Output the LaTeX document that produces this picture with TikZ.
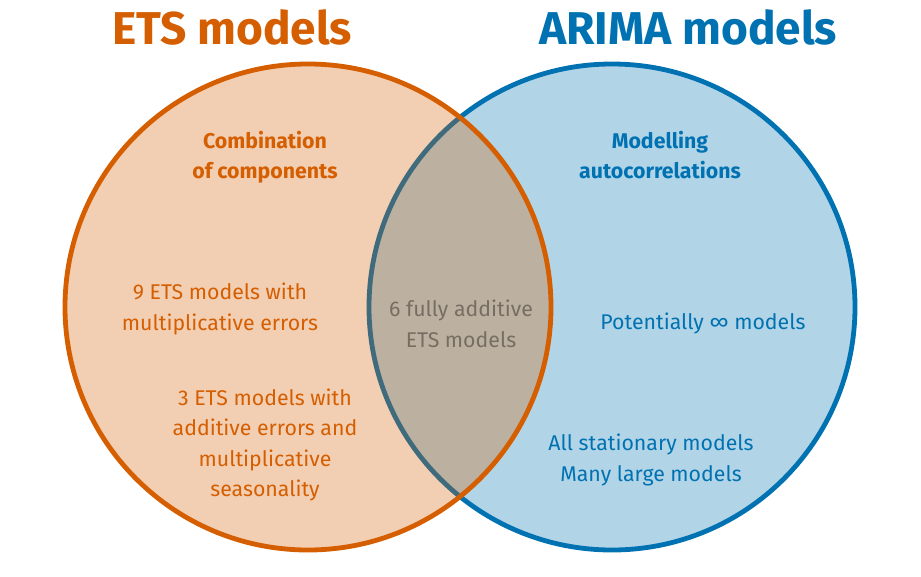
\documentclass[tikz,border=0pt]{standalone}
\usepackage{fontspec}
\setmainfont{Fira Sans}
\definecolor{etsorange}{HTML}{D55E00}
\definecolor{arimablue}{HTML}{0072B2}
\definecolor{midgray}{RGB}{118,110,98}
\begin{document}
\begin{tikzpicture}[x=1pt,y=-1pt,
  title/.style={font=\fontsize{46}{50}\selectfont\bfseries, anchor=center},
  head/.style={font=\fontsize{21.3}{30}\selectfont\bfseries, align=center, anchor=center},
  body/.style={font=\fontsize{21.3}{30.5}\selectfont, align=center, anchor=center},
  vennring/.style={line width=4.8pt, fill opacity=0.3}
]
\useasboundingbox (0,0) rectangle (921,576);
\fill[white] (0,0) rectangle (921,576);
\path[vennring, draw=arimablue, fill=arimablue] (612,307) circle[radius=243];
\path[vennring, draw=etsorange, fill=etsorange] (308,307) circle[radius=243];
\node[title, text=etsorange] (etst) at (232,27) {ETS models};
\node[title, text=arimablue] (arimat) at (688,27) {ARIMA models};
\node[head, text=etsorange] (comb) at (265,157) {Combination\\of components};
\node[head, text=arimablue] (autoc) at (660,155) {Modelling\\autocorrelations};
\node[body, text=etsorange] (nine) at (220,309) {9 ETS models with\\multiplicative errors};
\node[body, text=etsorange] (three) at (265,445) {3 ETS models with\\additive errors and\\multiplicative\\seasonality};
\node[body, text=midgray] (six) at (461,324) {6 fully additive\\ETS models};
\node[body, text=arimablue] (pot) at (703,323) {Potentially ∞ models};
\node[body, text=arimablue] (stat) at (651,460) {All stationary models\\Many large models};
\end{tikzpicture}
\end{document}
